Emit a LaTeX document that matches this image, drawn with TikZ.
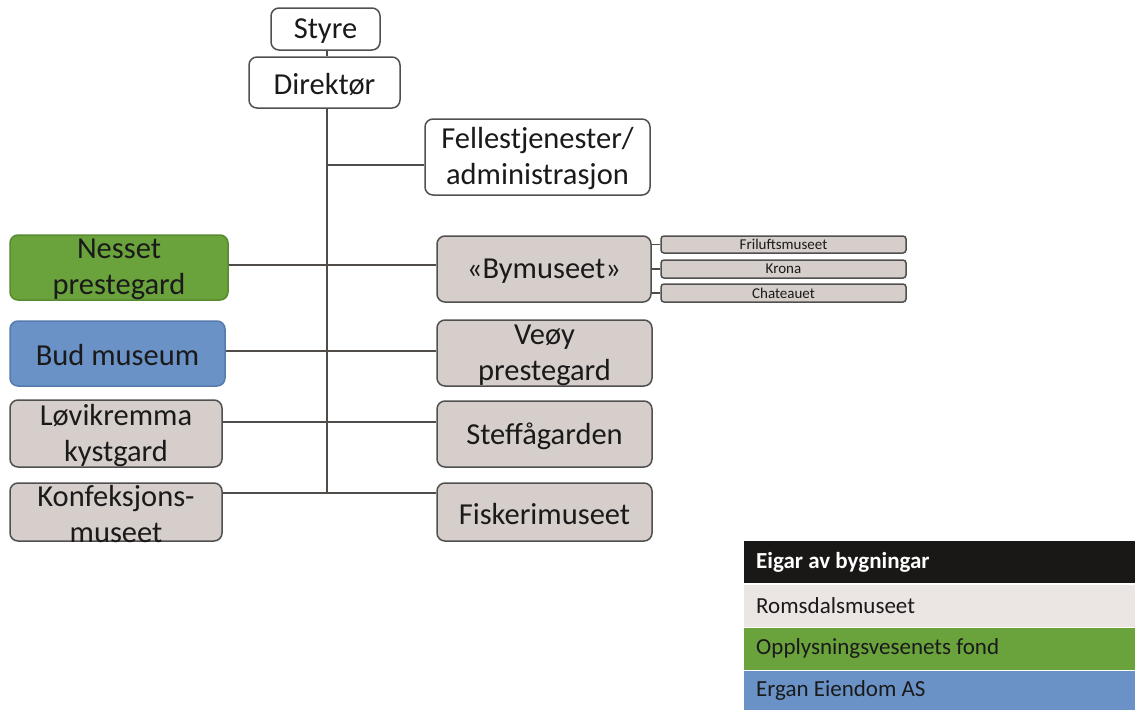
\documentclass[tikz,border=0pt]{standalone}
\usepackage{fontspec}
\setmainfont{Carlito}
\definecolor{boxgray}{RGB}{214,206,202}
\definecolor{edgegray}{RGB}{80,80,80}
\definecolor{linegray}{RGB}{80,76,74}
\definecolor{gfill}{RGB}{106,162,60}
\definecolor{gedge}{RGB}{88,138,48}
\definecolor{bfill}{RGB}{106,146,198}
\definecolor{bedge}{RGB}{86,122,172}
\definecolor{txt}{RGB}{26,26,26}
\definecolor{legblack}{RGB}{26,24,22}
\definecolor{leglight}{RGB}{235,230,227}
\tikzset{
  box/.style={draw=edgegray, line width=1.5pt, rounded corners=8pt, inner sep=0pt},
  wbox/.style={box, fill=white},
  gbox/.style={box, fill=boxgray},
  greenbox/.style={box, draw=gedge, fill=gfill},
  bluebox/.style={box, draw=bedge, fill=bfill},
  smallbox/.style={draw=edgegray, line width=1.5pt, rounded corners=3pt, inner sep=0pt, fill=boxgray},
  bigtxt/.style={align=center, text=txt, inner sep=0pt, yshift=-2pt, font=\fontsize{30.5}{36}\selectfont},
  smalltxt/.style={text=txt, inner sep=0pt, font=\fontsize{15}{18}\selectfont},
  conn/.style={draw=linegray, line width=1.3pt},
  legrow/.style={draw=white, line width=0.8pt, inner sep=0pt, minimum width=392pt, minimum height=43pt},
  legtxt/.style={anchor=west, inner sep=0pt, font=\fontsize{23}{27}\selectfont}
}
\begin{document}
\begin{tikzpicture}[x=1pt,y=-1pt]
\useasboundingbox (0,0) rectangle (1135,710);
% boxes
\node[wbox, minimum width=109pt, minimum height=42pt] (sty) at (325.5,29) {};
\node[bigtxt] (styt) at (sty) {Styre};
\node[wbox, minimum width=151pt, minimum height=51pt] (dir) at (324.5,82.5) {};
\node[bigtxt] (dirt) at (dir) {Direktør};
\node[wbox, minimum width=225pt, minimum height=76pt] (fel) at (537.5,157) {};
\node[bigtxt] (felt) at (fel) {Fellestjenester/\\administrasjon};

\node[gbox, minimum width=214pt, minimum height=66pt] (bym) at (544,269) {};
\node[bigtxt] (bymt) at (bym) {«Bymuseet»};
\node[gbox, minimum width=215pt, minimum height=66pt] (veo) at (544.5,353) {};
\node[bigtxt] (veot) at (veo) {Veøy\\prestegard};
\node[gbox, minimum width=215pt, minimum height=66pt] (ste) at (544.5,434) {};
\node[bigtxt] (stet) at (ste) {Steffågarden};
\node[gbox, minimum width=215pt, minimum height=58pt] (fis) at (544.5,512) {};
\node[bigtxt] (fist) at (fis) {Fiskerimuseet};

\node[greenbox, minimum width=218pt, minimum height=65pt] (nes) at (119,267.5) {};
\node[bigtxt] (nest) at (nes) {Nesset\\prestegard};
\node[bluebox, minimum width=215pt, minimum height=65pt] (bud) at (117.5,353.5) {};
\node[bigtxt] (budt) at (bud) {Bud museum};
\node[gbox, minimum width=212pt, minimum height=67pt] (lov) at (116,433.5) {};
\node[bigtxt] (lovt) at (lov) {Løvikremma\\kystgard};
\node[gbox, minimum width=212pt, minimum height=58pt] (kon) at (116,512) {};
\node[bigtxt] (kont) at (kon) {Konfeksjons-\\museet};

\node[smallbox, minimum width=245pt, minimum height=17pt] (fri) at (783.5,244.5) {};
\node[smalltxt] (frit) at (fri) {Friluftsmuseet};
\node[smallbox, minimum width=245pt, minimum height=18pt] (kro) at (783.5,269) {};
\node[smalltxt] (krot) at (kro) {Krona};
\node[smallbox, minimum width=245pt, minimum height=18pt] (cha) at (783.5,293) {};
\node[smalltxt] (chat) at (cha) {Chateauet};

% trunk
\coordinate (t0) at (327,108);
\coordinate (t1) at (327,493);
\coordinate (h0) at (0,165);
\coordinate (h1) at (0,265);
\coordinate (h2) at (0,351);
\coordinate (h3) at (0,422);
\coordinate (h4) at (0,493);

\draw[conn] (sty.south -| t0) -- (dir.north -| t0);
\draw[conn] (dir.south -| t0) -- (t1);
\draw[conn] (t0 |- h0) -- (fel.west |- h0);
\draw[conn] (nes.east |- h1) -- (bym.west |- h1);
\draw[conn] (bud.east |- h2) -- (veo.west |- h2);
\draw[conn] (lov.east |- h3) -- (ste.west |- h3);
\draw[conn] (kon.east |- h4) -- (fis.west |- h4);
\draw[conn] (bym.east |- fri.west) -- (fri.west);
\draw[conn] (bym.east |- kro.west) -- (kro.west);
\draw[conn] (bym.east |- cha.west) -- (cha.west);

% legend
\node[legrow, fill=legblack] (l0) at (939,562) {};
\node[legtxt, text=white] (l0t) at (756,562) {\bfseries Eigar av bygningar};
\node[legrow, fill=leglight] (l1) at (939,605.5) {};
\node[legtxt, text=txt] (l1t) at (756,605.5) {Romsdalsmuseet};
\node[legrow, fill=gfill] (l2) at (939,648.5) {};
\node[legtxt, text=txt] (l2t) at (756,648.5) {Opplysningsvesenets fond};
\node[legrow, fill=bfill, minimum height=40pt] (l3) at (939,690) {};
\node[legtxt, text=txt] (l3t) at (756,690) {Ergan Eiendom AS};
\end{tikzpicture}
\end{document}
